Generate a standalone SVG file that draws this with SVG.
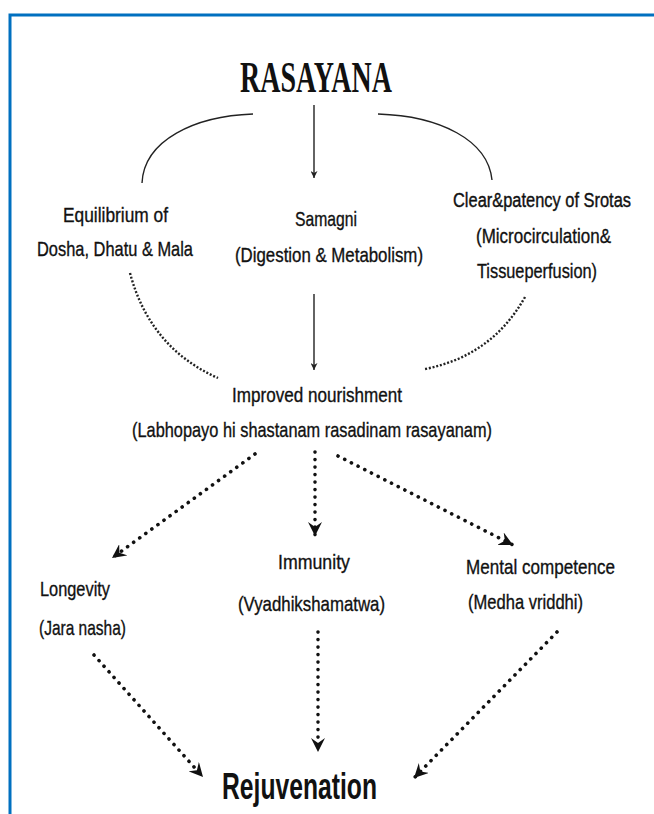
<svg xmlns="http://www.w3.org/2000/svg" width="654" height="814" viewBox="0 0 654 814">
<style>
.t{font-family:"Liberation Sans",Arial,sans-serif;font-size:21px;fill:#111;stroke:#111;stroke-width:0.35}
.title{font-family:"Liberation Serif","Times New Roman",serif;font-size:45px;font-weight:bold;fill:#111}
.big{font-family:"Liberation Sans",Arial,sans-serif;font-size:37px;font-weight:bold;fill:#111}
.solid{fill:none;stroke:#222;stroke-width:1.4}
.fine{fill:none;stroke:#222;stroke-width:2.4;stroke-dasharray:2 1.8}
.dots{fill:none;stroke:#111;stroke-width:3.6;stroke-linecap:round;stroke-dasharray:0.1 7.4}
</style>
<defs>
<marker id="sa" viewBox="0 0 10 10" refX="10" refY="5" markerWidth="7" markerHeight="7" markerUnits="userSpaceOnUse" orient="auto">
<path d="M0,0 L10,5 L0,10 L3,5 z" fill="#222"/>
</marker>
<marker id="da" viewBox="0 0 10 10" refX="10" refY="5" markerWidth="14" markerHeight="14" markerUnits="userSpaceOnUse" orient="auto">
<path d="M0,0 L10,5 L0,10 L3.5,5 z" fill="#111"/>
</marker>
</defs>
<rect width="654" height="814" fill="#fff"/>
<polyline points="10,814 10,15 654,15" fill="none" stroke="#0070C0" stroke-width="3"/>

<g id="rasayana"><text class="title" x="240" y="92" textLength="152" lengthAdjust="spacingAndGlyphs">RASAYANA</text></g>
<g id="equilibrium">
<text class="t" x="63" y="222" textLength="105" lengthAdjust="spacingAndGlyphs">Equilibrium of</text>
<text class="t" x="37" y="256" textLength="156" lengthAdjust="spacingAndGlyphs">Dosha, Dhatu &amp; Mala</text>
</g>
<g id="samagni">
<text class="t" x="295" y="226" textLength="62" lengthAdjust="spacingAndGlyphs">Samagni</text>
<text class="t" x="235" y="262" textLength="188" lengthAdjust="spacingAndGlyphs">(Digestion &amp; Metabolism)</text>
</g>
<g id="srotas">
<text class="t" transform="translate(453,207) scale(1,1.17)" style="font-size:18px" x="0" y="0" textLength="178" lengthAdjust="spacingAndGlyphs">Clear&amp;patency of Srotas</text>
<text class="t" x="476" y="243" textLength="135" lengthAdjust="spacingAndGlyphs">(Microcirculation&amp;</text>
<text class="t" x="477" y="278" textLength="120" lengthAdjust="spacingAndGlyphs">Tissueperfusion)</text>
</g>
<g id="nourishment">
<text class="t" x="232" y="402" textLength="170" lengthAdjust="spacingAndGlyphs">Improved nourishment</text>
<text class="t" x="132" y="437" textLength="360" lengthAdjust="spacingAndGlyphs">(Labhopayo hi shastanam rasadinam rasayanam)</text>
</g>
<g id="longevity">
<text class="t" x="40" y="596" textLength="70" lengthAdjust="spacingAndGlyphs">Longevity</text>
<text class="t" x="39" y="635" textLength="87" lengthAdjust="spacingAndGlyphs">(Jara nasha)</text>
</g>
<g id="immunity">
<text class="t" x="278" y="569" textLength="72" lengthAdjust="spacingAndGlyphs">Immunity</text>
<text class="t" x="238" y="611" textLength="147" lengthAdjust="spacingAndGlyphs">(Vyadhikshamatwa)</text>
</g>
<g id="mental">
<text class="t" x="466" y="574" textLength="149" lengthAdjust="spacingAndGlyphs">Mental competence</text>
<text class="t" x="468" y="609" textLength="115" lengthAdjust="spacingAndGlyphs">(Medha vriddhi)</text>
</g>
<g id="rejuvenation"><text class="big" x="222" y="799" textLength="155" lengthAdjust="spacingAndGlyphs">Rejuvenation</text></g>

<g id="connectors">
<path class="solid" d="M142,183 C144,140 195,116 253,114"/>
<path class="solid" d="M378,114 C440,116 488,140 492,180"/>
<path class="solid" d="M314,105 L314,178" marker-end="url(#sa)"/>
<path class="solid" d="M314,294 L314,370" marker-end="url(#sa)"/>
<path class="fine" d="M130,273 Q150,348 218,378"/>
<path class="fine" d="M525,297 Q492,356 425,369"/>
<path class="dots" d="M255,454 L112,558" marker-end="url(#da)"/>
<path class="dots" d="M315,452 L315,536" marker-end="url(#da)"/>
<path class="dots" d="M338,456 L513,545" marker-end="url(#da)"/>
<path class="dots" d="M94,655 L203,777" marker-end="url(#da)"/>
<path class="dots" d="M318,632 L318,752" marker-end="url(#da)"/>
<path class="dots" d="M557,632 L414,778" marker-end="url(#da)"/>
</g>
</svg>
